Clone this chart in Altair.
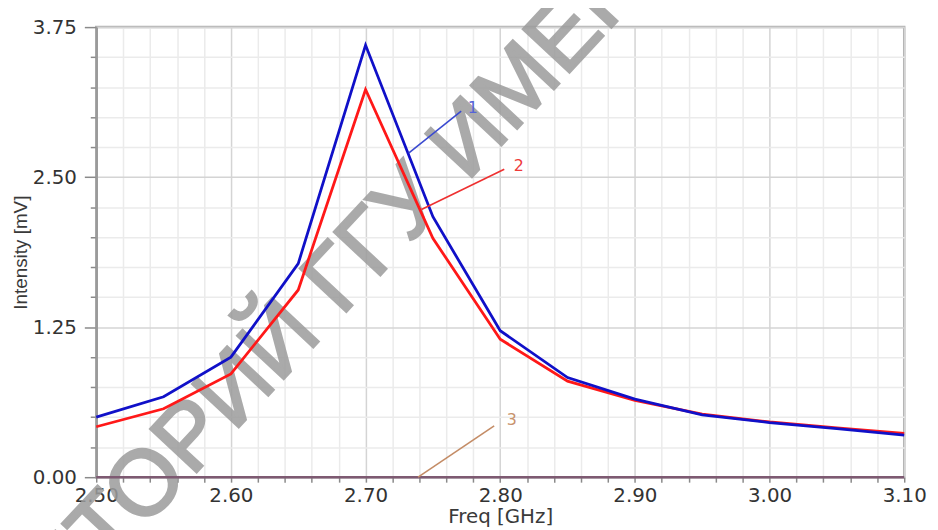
import altair as alt
import pandas as pd

# ---- data ----
freq = [2.50, 2.55, 2.60, 2.65, 2.70, 2.75, 2.80, 2.85, 2.90, 2.95, 3.00, 3.05, 3.10]
curve1 = [0.50, 0.67, 1.00, 1.78, 3.60, 2.17, 1.22, 0.83, 0.65, 0.52, 0.455, 0.405, 0.35]
curve2 = [0.42, 0.57, 0.86, 1.56, 3.23, 1.99, 1.15, 0.80, 0.64, 0.525, 0.46, 0.41, 0.365]
curve3 = [0.0, 0.0, 0.0, 0.0, 0.0, 0.0, 0.0, 0.0, 0.0, 0.0, 0.0, 0.0, 0.0]

x_ticks = [2.50, 2.52, 2.54, 2.56, 2.58, 2.60, 2.62, 2.64, 2.66, 2.68, 2.70,
           2.72, 2.74, 2.76, 2.78, 2.80, 2.82, 2.84, 2.86, 2.88, 2.90,
           2.92, 2.94, 2.96, 2.98, 3.00, 3.02, 3.04, 3.06, 3.08, 3.10]
y_ticks = [0.0, 0.25, 0.5, 0.75, 1.0, 1.25, 1.5, 1.75, 2.0, 2.25, 2.5,
           2.75, 3.0, 3.25, 3.5, 3.75]

# marker labels (leader line start/end and label position, data units)
ann_name = ["1", "2", "3"]
ann_x0 = [2.732, 2.7415, 2.739]
ann_y0 = [2.70, 2.23, 0.0]
ann_x1 = [2.771, 2.803, 2.7955]
ann_y1 = [3.05, 2.566, 0.427]
ann_tx = [2.7796, 2.8137, 2.8085]
ann_ty = [3.075, 2.594, 0.473]
ann_color = ["#3a4ad0", "#ee3030", "#c48c66"]
ann_text_color = ["#5563d8", "#ee3a3a", "#c8926c"]

# watermark anchor (data units)
wm_x = [2.508]
wm_y = [-0.76]

xscale = alt.Scale(domain=[2.5, 3.1], nice=False, zero=False)
yscale = alt.Scale(domain=[0, 3.75], nice=False, zero=False)

FONT = "DejaVu Sans"

xaxis = alt.Axis(
    values=x_ticks, tickCount=200,
    labelExpr="round(datum.value*100) % 10 === 0 ? format(datum.value, '.2f') : ''",
    title="Freq [GHz]",
    titleFont=FONT, titleFontSize=20, titleFontWeight="normal", titleColor="#3a3a3a",
    titlePadding=1,
    labelFont=FONT, labelFontSize=20, labelColor="#333333", labelPadding=4,
    labelFlush=False, labelOverlap=False,
    grid=True,
    gridColor={"condition": {"test": "round(datum.value*100) % 10 === 0", "value": "#d4d4d4"},
               "value": "#ebebeb"},
    gridWidth=1.5,
    tickSize=5, tickColor="#8a8a8a", tickWidth=1.5,
    domain=False,
)

yaxis = alt.Axis(
    values=y_ticks, tickCount=200,
    labelExpr="datum.value % 1.25 === 0 ? format(datum.value, '.2f') : ''",
    title="Intensity [mV]",
    titleFont="Liberation Sans", titleFontSize=19, titleFontWeight="normal",
    titleColor="#3a3a3a", titlePadding=2,
    labelFont=FONT, labelFontSize=20, labelColor="#333333", labelPadding=8,
    labelFlush=False, labelOverlap=False,
    grid=True,
    gridColor={"condition": {"test": "datum.value % 1.25 === 0", "value": "#d4d4d4"},
               "value": "#ebebeb"},
    gridWidth=1.5,
    tickSize={"condition": {"test": "datum.value % 1.25 === 0", "value": 12}, "value": 6},
    tickColor="#8a8a8a", tickWidth=1.5,
    domain=True, domainColor="#9a9a9a", domainWidth=2.5,
)

df = pd.DataFrame({"freq": freq, "c1": curve1, "c2": curve2, "c3": curve3})
ann = pd.DataFrame({"name": ann_name, "x0": ann_x0, "y0": ann_y0, "x1": ann_x1,
                    "y1": ann_y1, "tx": ann_tx, "ty": ann_ty,
                    "lc": ann_color, "tc": ann_text_color})
wm = pd.DataFrame({"x": wm_x, "y": wm_y})

base = alt.Chart(df)

grid_layer = base.mark_line(opacity=0).encode(
    x=alt.X("freq:Q", scale=xscale, axis=xaxis),
    y=alt.Y("c3:Q", scale=yscale, axis=yaxis),
)

wm_common = dict(angle=313, fontSize=93, font="Liberation Sans", color="#9c9c9c",
                 stroke="#9c9c9c", strokeWidth=2.5,
                 opacity=0.85, baseline="alphabetic")
wm_a = alt.Chart(wm).mark_text(text="ТОРИЙ ГГУ ИМЕНИ Ф. СКОРИНЫ", align="left",
                               **wm_common).encode(
    x=alt.X("x:Q", scale=xscale), y=alt.Y("y:Q", scale=yscale))
wm_b = alt.Chart(wm).mark_text(text="РЕПОЗИ", align="right", **wm_common).encode(
    x=alt.X("x:Q", scale=xscale), y=alt.Y("y:Q", scale=yscale))

line3 = base.mark_line(color="#7e5a72", strokeWidth=2.5).encode(
    x=alt.X("freq:Q", scale=xscale), y=alt.Y("c3:Q", scale=yscale))
line2 = base.mark_line(color="#ff1818", strokeWidth=2.8).encode(
    x=alt.X("freq:Q", scale=xscale), y=alt.Y("c2:Q", scale=yscale))
line1 = base.mark_line(color="#1010c8", strokeWidth=2.8).encode(
    x=alt.X("freq:Q", scale=xscale), y=alt.Y("c1:Q", scale=yscale))

leaders = alt.Chart(ann).mark_rule(strokeWidth=1.6).encode(
    x=alt.X("x0:Q", scale=xscale), y=alt.Y("y0:Q", scale=yscale),
    x2="x1:Q", y2="y1:Q",
    color=alt.Color("lc:N", scale=None, legend=None),
)
labels = alt.Chart(ann).mark_text(font=FONT, fontSize=16, align="center",
                                  baseline="middle").encode(
    x=alt.X("tx:Q", scale=xscale), y=alt.Y("ty:Q", scale=yscale),
    text="name:N",
    color=alt.Color("tc:N", scale=None, legend=None),
)

chart = alt.layer(grid_layer, wm_a, wm_b, line3, line2, line1, leaders, labels).properties(
    width=815, height=454,
    padding={"left": 89, "top": 17, "right": 26, "bottom": 51},
    autosize=alt.AutoSizeParams(type="none"),
).configure_view(stroke="#b4b4b4", strokeWidth=2.5)

chart.save("out.html", embed_options={"renderer": "svg", "actions": False})
